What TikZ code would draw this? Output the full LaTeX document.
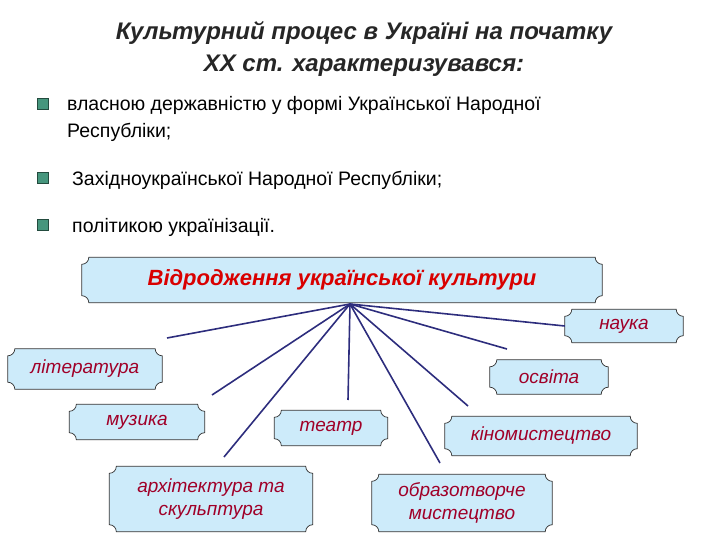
\documentclass[tikz,border=0pt]{standalone}
\usepackage{fontspec}
\setmainfont{Liberation Sans}
\usetikzlibrary{calc,backgrounds}
\definecolor{boxfill}{RGB}{205,235,250}
\definecolor{boxtxt}{RGB}{160,0,40}
\definecolor{linec}{RGB}{45,45,125}
\definecolor{bul}{RGB}{70,150,125}
\tikzset{
  plq/.style={inner sep=0pt,align=center,font=\itshape\fontsize{19}{23}\selectfont,text=boxtxt},
  conn/.style={draw=linec,line width=1.6pt},
  bulletsq/.style={minimum size=11pt,inner sep=0pt,fill=bul,draw=bul!50!black,line width=0.8pt},
  btext/.style={anchor=west,align=left,font=\fontsize{19.5}{27}\selectfont,inner sep=0pt},
}
\newcommand\plaque[2]{%
  \path[fill=boxfill,draw=black!80,line width=0.7pt]
    let \p1=(#1.south west), \p2=(#1.north east) in
    (\x2-#2,\y1) arc[start angle=180,end angle=90,radius=#2]
    -- (\x2,\y2-#2) arc[start angle=270,end angle=180,radius=#2]
    -- (\x1+#2,\y2) arc[start angle=0,end angle=-90,radius=#2]
    -- (\x1,\y1+#2) arc[start angle=90,end angle=0,radius=#2] -- cycle;}
\begin{document}
\begin{tikzpicture}[x=1pt,y=-1pt]
\useasboundingbox (0,0) rectangle (720,540);
\node[font=\bfseries\itshape\fontsize{24}{32}\selectfont,text=black!85,align=center] (title) at (364,49)
  {Культурний процес в Україні на початку\\XX ст. характеризувався:};
\node[bulletsq] (b1) at (43,104) {};
\node[bulletsq] (b2) at (43,178) {};
\node[bulletsq] (b3) at (43,225) {};
\node[btext] (t1) at (67,119) {власною державністю у формі Української Народної\\Республіки;};
\node[btext] (t2) at (72,180) {Західноукраїнської Народної Республіки;};
\node[btext] (t3) at (72,227) {політикою українізації.};

\node[plq,minimum width=520,minimum height=45,font=\bfseries\itshape\fontsize{22}{26}\selectfont,text=red!85!black] (main) at (342,280) {Відродження української культури};
\node[plq,minimum width=118,minimum height=33] (nauka) at (624,326) {наука};
\node[plq,minimum width=154,minimum height=40] (lit) at (85,369) {\raisebox{4pt}{література}};
\node[plq,minimum width=118,minimum height=34] (osv) at (549,377) {освіта};
\node[plq,minimum width=135,minimum height=35] (muz) at (137,422) {\raisebox{4pt}{музика}};
\node[plq,minimum width=113,minimum height=35] (teatr) at (331,428) {театр};
\node[plq,minimum width=192,minimum height=39] (kino) at (541,436) {кіномистецтво};
\node[plq,minimum width=203,minimum height=65] (arch) at (211,499) {архітектура та\\скульптура};
\node[plq,minimum width=180,minimum height=57] (obr) at (462,503) {образотворче\\мистецтво};
\begin{scope}[on background layer]
\foreach \nm in {main,nauka,lit,osv,muz,teatr,kino,arch,obr} {\plaque{\nm}{7pt}}
\end{scope}

\coordinate (hub) at (350,304);
\coordinate (eLit) at (167,338);
\coordinate (eMuz) at (212,395);
\coordinate (eArch) at (224,457);
\coordinate (eTeatr) at (348,400);
\coordinate (eObr) at (440,463);
\coordinate (eKino) at (468,406);
\coordinate (eOsv) at (507,349);
\draw[conn] (hub) -- (eLit);
\draw[conn] (hub) -- (eMuz);
\draw[conn] (hub) -- (eArch);
\draw[conn] (hub) -- (eTeatr);
\draw[conn] (hub) -- (eObr);
\draw[conn] (hub) -- (eKino);
\draw[conn] (hub) -- (eOsv);
\draw[conn] (hub) -- (nauka.west);
\end{tikzpicture}
\end{document}
